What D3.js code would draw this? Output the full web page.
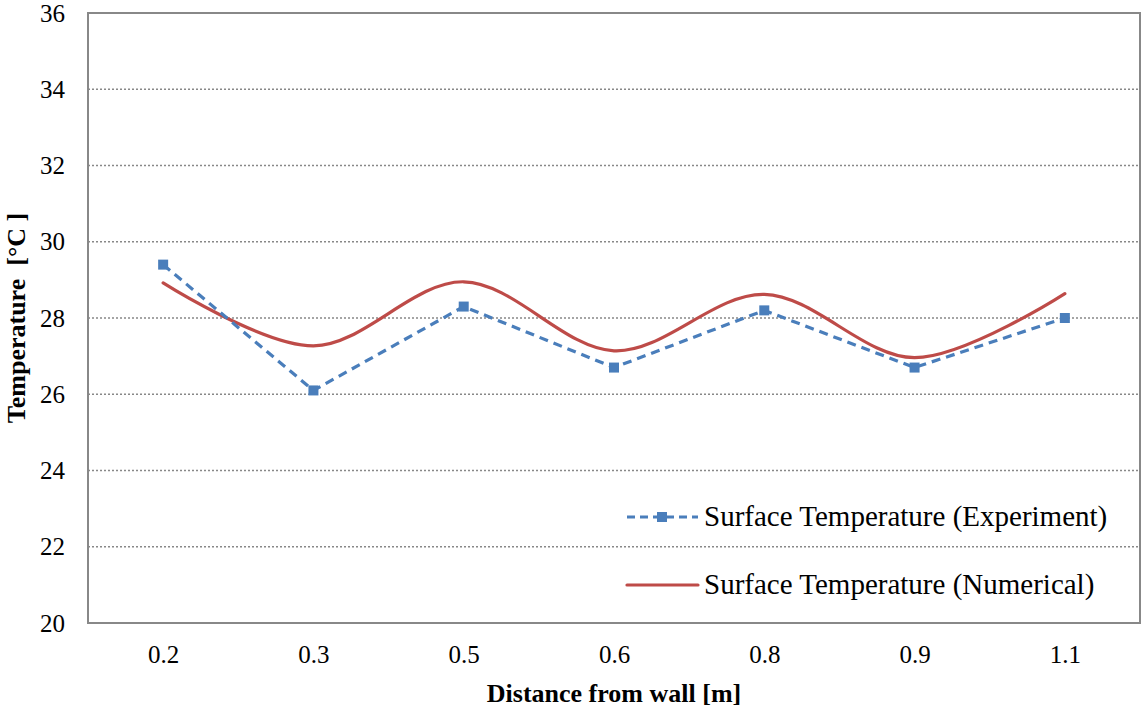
<!DOCTYPE html>
<html><head><meta charset="utf-8">
<script src="https://cdn.jsdelivr.net/npm/d3@7"></script>
<style>body{margin:0;background:#fff}svg{display:block}svg text{font-family:"Liberation Serif"}</style>
</head><body>
<script>
const categories = ["0.2","0.3","0.5","0.6","0.8","0.9","1.1"];
const experiment = [29.4, 26.1, 28.3, 26.7, 28.2, 26.7, 28.0];
const numerical = [28.92, 27.27, 28.95, 27.14, 28.62, 26.96, 28.64];
const yTicks = [20,22,24,26,28,30,32,34,36];
const seriesNames = ["Surface Temperature (Experiment)","Surface Temperature (Numerical)"];

const W=1144,H=710;
const m={l:88,t:13,r:4,b:87};
const svg=d3.select("body").append("svg").attr("width",W).attr("height",H);
const x=d3.scalePoint().domain(categories).range([m.l,W-m.r]).padding(0.5);
const y=d3.scaleLinear().domain([20,36]).range([H-m.b,m.t]);
const font='"Liberation Serif"';

// grid
svg.append("g").selectAll("line").data(yTicks.filter(d=>d>20&&d<36)).join("line")
 .attr("x1",m.l).attr("x2",W-m.r).attr("y1",d=>y(d)).attr("y2",d=>y(d))
 .attr("stroke","#888").attr("stroke-width",1.3).attr("stroke-dasharray","2,2");
// frame
svg.append("rect").attr("x",m.l).attr("y",m.t).attr("width",W-m.r-m.l).attr("height",H-m.b-m.t)
 .attr("fill","none").attr("stroke","#888").attr("stroke-width",2);

// y axis
const ya=svg.append("g").attr("transform",`translate(${m.l},0)`)
 .call(d3.axisLeft(y).tickValues(yTicks).tickSize(0).tickPadding(23).tickFormat(d3.format("d")));
ya.attr("font-family",null);
ya.select(".domain").remove();
ya.selectAll("text").style("font-family",font).style("font-size","25px").attr("fill","#000");
// x axis
const xa=svg.append("g").attr("transform",`translate(0,${H-m.b})`)
 .call(d3.axisBottom(x).tickSize(0).tickPadding(22));
xa.attr("font-family",null);
xa.select(".domain").remove();
xa.selectAll("text").style("font-family",font).style("font-size","25px").attr("fill","#000");

// titles
svg.append("text").attr("x",614).attr("y",702).attr("text-anchor","middle")
 .style("font-family",font).style("font-size","26px").style("font-weight","bold").text("Distance from wall [m]");
svg.append("text").attr("transform",`translate(25,${(m.t+H-m.b)/2}) rotate(-90)`).attr("text-anchor","middle")
 .style("font-family",font).style("font-size","26px").style("font-weight","bold").style("white-space","pre").text("Temperature  [°C ]");

// numerical line
const blue="#4a7ebb", red="#be4b48";
svg.append("path").datum(numerical).attr("fill","none").attr("stroke",red).attr("stroke-width",3.2)
 .attr("stroke-linecap","round")
 .attr("d",d3.line().x((d,i)=>x(categories[i])).y(d=>y(d)).curve(d3.curveCardinal.tension(0)));
// experiment line
svg.append("path").datum(experiment).attr("fill","none").attr("stroke",blue).attr("stroke-width",3.2)
 .attr("stroke-dasharray","9,6")
 .attr("d",d3.line().x((d,i)=>x(categories[i])).y(d=>y(d)));
svg.append("g").selectAll("rect").data(experiment).join("rect")
 .attr("x",(d,i)=>x(categories[i])-5).attr("y",d=>y(d)-5).attr("width",10).attr("height",10).attr("fill",blue);

// legend
const lg=svg.append("g");
lg.append("line").attr("x1",627).attr("x2",698).attr("y1",517).attr("y2",517)
 .attr("stroke",blue).attr("stroke-width",3.2).attr("stroke-dasharray","8,5");
lg.append("rect").attr("x",657).attr("y",512).attr("width",10).attr("height",10).attr("fill",blue);
lg.append("line").attr("x1",627).attr("x2",698).attr("y1",585).attr("y2",585)
 .attr("stroke",red).attr("stroke-width",3.2).attr("stroke-linecap","round");
lg.selectAll("text").data(seriesNames).join("text").attr("x",704).attr("y",(d,i)=>[526,594][i])
 .style("font-family",font).style("font-size","29px").attr("fill","#000").text(d=>d);
</script>
</body></html>
